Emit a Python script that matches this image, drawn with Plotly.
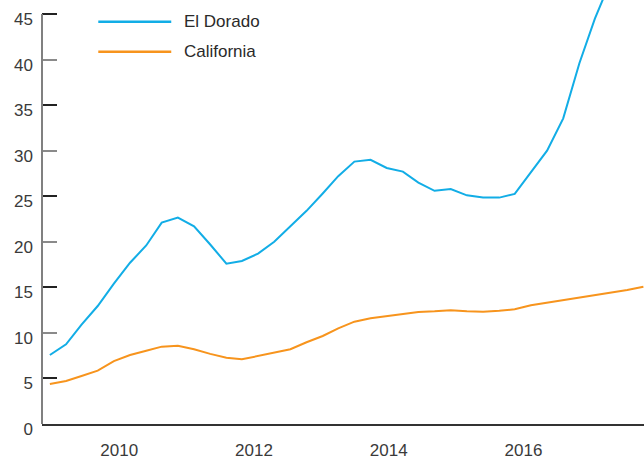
import plotly.graph_objects as go

# ---- data ----
periods = [2008.97, 2009.21, 2009.44, 2009.68, 2009.92, 2010.16, 2010.40, 2010.63,
           2010.87, 2011.11, 2011.35, 2011.59, 2011.82, 2012.06, 2012.30, 2012.54,
           2012.78, 2013.02, 2013.25, 2013.49, 2013.73, 2013.97, 2014.21, 2014.44,
           2014.68, 2014.92, 2015.16, 2015.40, 2015.64, 2015.87, 2016.11, 2016.35,
           2016.59, 2016.83, 2017.06, 2017.30, 2017.54, 2017.78]

el_dorado = [7.57, 8.75, 10.9, 12.95, 15.4, 17.7, 19.6, 22.1, 22.65, 21.7,
             19.7, 17.6, 17.9, 18.7, 20.0, 21.7, 23.4, 25.3, 27.2, 28.8,
             29.0, 28.1, 27.7, 26.5, 25.6, 25.8, 25.1, 24.85, 24.85, 25.25,
             27.6, 30.0, 33.55, 39.6, 44.5, 49.0, 53.0, 57.0]

california = [4.39, 4.72, 5.27, 5.85, 6.9, 7.57, 8.05, 8.49, 8.6, 8.2,
              7.7, 7.28, 7.1, 7.46, 7.76, 8.2, 8.97, 9.66, 10.5, 11.23,
              11.6, 11.85, 12.07, 12.3, 12.37, 12.48, 12.37, 12.33, 12.44, 12.59,
              13.03, 13.31, 13.57, 13.86, 14.13, 14.41, 14.7, 15.07]

series_names = ["El Dorado", "California"]
x_ticks = [2010, 2012, 2014, 2016]
y_ticks_dark = [0, 5, 15, 25, 35, 45]
y_ticks_grey = [10, 20, 30, 40]

# ---- styling ----
colors = ["#12ADE6", "#F7941D"]
FONT = "Liberation Sans, Arial, sans-serif"
TXT = "#3a3a3a"
YR = [0, 46.54]
XR = [2008.853, 2017.789]

fig = go.Figure()
for name, vals, col in zip(series_names, [el_dorado, california], colors):
    fig.add_trace(go.Scatter(x=periods, y=vals, mode="lines", name=name,
                             line=dict(color=col, width=2), showlegend=False))

common_y = dict(range=YR, showgrid=False, zeroline=False, showline=False,
                ticks="inside", ticklen=15, tickwidth=1.5, automargin=False,
                tickfont=dict(family=FONT, size=17, color=TXT),
                ticklabelstandoff=8, ticklabelshift=5,
                ticklabeloverflow="allow", fixedrange=True)

fig.update_layout(
    template="none",
    width=644, height=459,
    margin=dict(l=42, r=0, t=0, b=35, pad=0),
    paper_bgcolor="white", plot_bgcolor="white",
    xaxis=dict(range=XR, showgrid=False, zeroline=False, showline=True,
               linecolor="#333333", linewidth=2, ticks="", automargin=False,
               tickvals=x_ticks, ticktext=[str(v) for v in x_ticks],
               tickfont=dict(family=FONT, size=17, color=TXT),
               ticklabelstandoff=10, ticklabeloverflow="allow", fixedrange=True),
    yaxis=dict(tickvals=y_ticks_dark, tickcolor="#222222", **common_y),
    yaxis2=dict(tickvals=y_ticks_grey, tickcolor="#8a8a8a", overlaying="y",
                side="left", anchor="x", **common_y),
    showlegend=False,
)

# attach the second (grey-tick) axis
fig.add_trace(go.Scatter(x=[periods[0]], y=[california[0]], yaxis="y2",
                         mode="lines", line=dict(width=0), hoverinfo="skip",
                         showlegend=False))

# y axis line (stops at 45)
fig.add_shape(type="line", xref="paper", yref="y", x0=0, x1=0, y0=0, y1=45,
              line=dict(color="#808080", width=2))

# legend drawn manually (long line samples)
leg_y = [0.9488, 0.878]
for name, col, yy in zip(series_names, colors, leg_y):
    fig.add_shape(type="line", xref="paper", yref="paper", x0=0.0935, x1=0.2147,
                  y0=yy, y1=yy, line=dict(color=col, width=2.5))
    fig.add_annotation(xref="paper", yref="paper", x=0.2329, y=yy, text=name,
                       showarrow=False, xanchor="left", yanchor="middle",
                       font=dict(family=FONT, size=17, color="#2a2a2a"))

fig.write_html("out.html", config={"displayModeBar": False},
               post_script="document.body.style.margin='0';")
